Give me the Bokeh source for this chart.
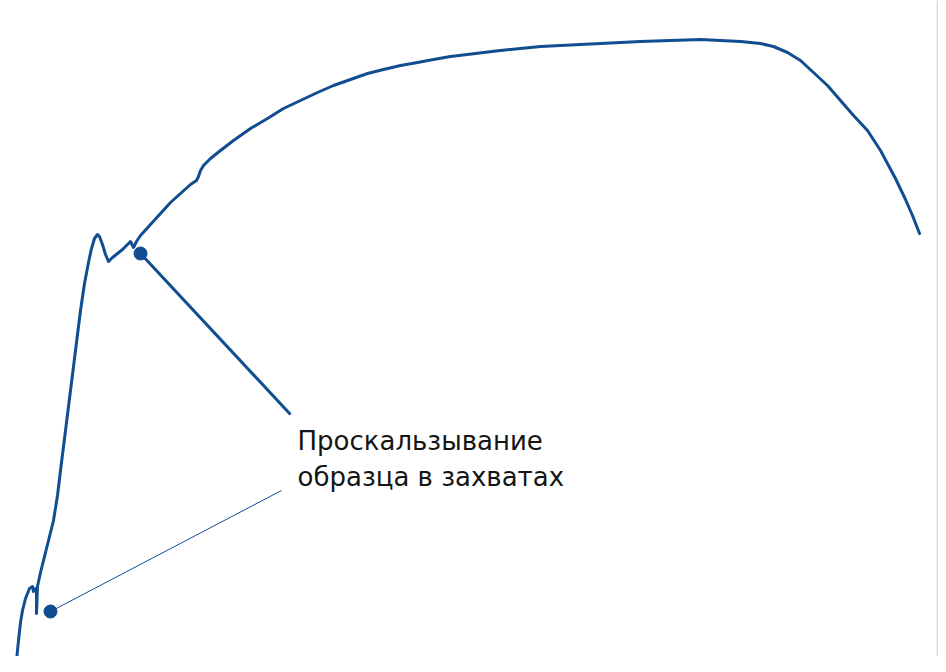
from bokeh.plotting import figure
from bokeh.models import ColumnDataSource, Range1d, Span
from bokeh.core.properties import value
from bokeh.embed import file_html
from bokeh.resources import INLINE

# Tensile curve (strain, stress in chart units)
strain = [16, 18, 20, 22, 25, 29, 32, 33, 35, 36, 36, 37, 40, 45, 50, 53, 57, 60, 65, 70,
          75, 80, 84, 88, 91, 94, 97, 99, 102, 105, 108, 112, 117, 122, 127, 130, 133, 136,
          140, 150, 160, 170, 180, 190, 196, 198, 200, 203, 210, 220, 233, 250, 267, 283,
          300, 317, 333, 350, 367, 383, 400, 417, 433, 450, 467, 483, 500, 520, 540, 560,
          580, 600, 620, 640, 670, 700, 720, 740, 760, 773, 787, 800, 813, 827, 840, 853,
          867, 880, 895, 905, 912, 919]
stress = [12, 32, 50, 62, 74, 84, 86, 81, 84, 82, 59, 86, 100, 120, 140, 152, 177, 202, 242, 282,
          322, 362, 389, 410, 424, 434, 438, 436, 428, 418, 411, 415, 419, 423, 428, 431, 425, 431,
          437, 448, 459, 470, 479, 488, 492, 496, 502, 507, 514, 522, 532, 544, 554, 564,
          572, 580, 587, 593, 599, 603, 607, 610, 613, 616, 618, 620, 622, 624, 626, 627,
          628, 629, 630, 631, 632, 633, 632, 631, 629, 626, 620, 612, 600, 587, 572, 557,
          542, 522, 494, 473, 457, 439]

# Annotation: slip points and label
slip_x = [140, 50]
slip_y = [419, 61]
label_x = [290, 281]
label_y = [258, 182]
label_lines = ["Проскальзывание", "образца в захватах"]

BLUE = "#114d91"

p = figure(width=938, height=656, output_backend="svg", toolbar_location=None,
           x_range=Range1d(0, 938), y_range=Range1d(16, 672), min_border=0)
p.axis.visible = False
p.grid.visible = False
p.outline_line_color = None
p.background_fill_color = "white"
p.border_fill_color = "white"

p.line(strain, stress, line_color=BLUE, line_width=3, line_join="round", line_cap="round")

# leader lines from dots to the label
p.segment(x0=slip_x[0], y0=slip_y[0], x1=label_x[0], y1=label_y[0], line_color=BLUE, line_width=3)
p.segment(x0=slip_x[1], y0=slip_y[1], x1=label_x[1], y1=label_y[1], line_color=BLUE, line_width=1)
p.scatter(slip_x, slip_y, size=13, fill_color=BLUE, line_color=BLUE)

src = ColumnDataSource(data=dict(x=[297, 297], y=[232, 196], t=label_lines))
p.text(x="x", y="y", text="t", source=src, text_font=value("DejaVu Sans"),
       text_font_size="26px", text_color="#151515", text_baseline="alphabetic")

p.add_layout(Span(location=937, dimension="height", line_color="#dddddd", line_width=2))

open("out.html", "w").write(file_html(p, INLINE))
